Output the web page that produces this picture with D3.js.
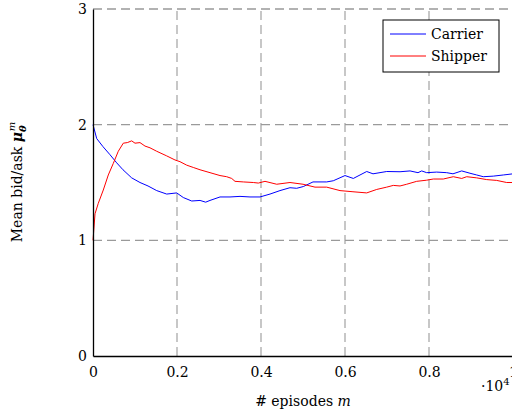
<!DOCTYPE html>
<html>
<head>
<meta charset="utf-8">
<script src="https://cdn.jsdelivr.net/npm/d3@7"></script>
<style>
  html, body { margin: 0; padding: 0; background: #fff; }
  svg { display: block; }
  text { font-family: "DejaVu Serif", serif; fill: #000; }
</style>
</head>
<body>
<svg id="chart" width="512" height="415"></svg>
<script>
// Mean bid/ask price over training episodes for both agents
const carrierEpisodes = [0, 88, 238, 405, 564, 714, 921, 1119, 1310, 1517, 1755, 1993, 2150, 2350, 2548, 2683, 2786, 3024, 3262, 3500, 3738, 3976, 4214, 4452, 4690, 4850, 5007, 5238, 5564, 5721, 6000, 6198, 6517, 6667, 6993, 7310, 7548, 7738, 7826, 7945, 8183, 8421, 8571, 8779, 8976, 9136, 9293, 9531, 9769, 10000];
const carrierValues = [2.00, 1.88, 1.81, 1.74, 1.67, 1.61, 1.54, 1.50, 1.47, 1.43, 1.40, 1.41, 1.37, 1.34, 1.345, 1.33, 1.345, 1.375, 1.375, 1.38, 1.375, 1.375, 1.40, 1.43, 1.455, 1.45, 1.465, 1.505, 1.505, 1.515, 1.56, 1.535, 1.595, 1.575, 1.595, 1.593, 1.60, 1.585, 1.60, 1.585, 1.59, 1.585, 1.575, 1.60, 1.58, 1.565, 1.55, 1.555, 1.565, 1.575];

const shipperEpisodes = [0, 48, 126, 245, 364, 483, 602, 721, 817, 921, 1000, 1119, 1238, 1357, 1517, 1755, 1952, 2071, 2231, 2388, 2548, 2786, 3024, 3183, 3302, 3381, 3579, 3817, 3936, 4095, 4374, 4690, 5000, 5286, 5564, 5881, 6190, 6517, 6755, 6993, 7150, 7310, 7469, 7707, 7945, 8102, 8340, 8579, 8779, 8898, 9136, 9374, 9612, 9850, 10000];
const shipperValues = [1.00, 1.23, 1.32, 1.435, 1.565, 1.665, 1.77, 1.84, 1.845, 1.86, 1.84, 1.845, 1.815, 1.80, 1.77, 1.73, 1.695, 1.68, 1.65, 1.63, 1.61, 1.585, 1.56, 1.55, 1.535, 1.51, 1.505, 1.50, 1.495, 1.51, 1.485, 1.50, 1.485, 1.46, 1.46, 1.43, 1.42, 1.41, 1.44, 1.46, 1.475, 1.47, 1.485, 1.51, 1.52, 1.53, 1.53, 1.55, 1.535, 1.55, 1.54, 1.525, 1.518, 1.50, 1.50];

const seriesNames = ["Carrier", "Shipper"];
const seriesColors = ["#0000ff", "#ff0000"];
const xTicks = [0, 2000, 4000, 6000, 8000, 10000];
const yTicks = [0, 1, 2, 3];

const svg = d3.select("#chart");
const x = d3.scaleLinear().domain([0, 10000]).range([93, 513]);
const y = d3.scaleLinear().domain([0, 3]).range([356, 9]);

// dashed major grid
const grid = svg.append("g").attr("stroke", "#9a9a9a").attr("stroke-width", 1.1)
  .attr("stroke-dasharray", "9,5").attr("fill", "none");
grid.selectAll("line.v").data(xTicks.filter(d => d > 0)).join("line")
  .attr("class", "v")
  .attr("x1", d => x(d)).attr("x2", d => x(d))
  .attr("y1", y(0)).attr("y2", y(3));
grid.selectAll("line.h").data(yTicks.filter(d => d > 0)).join("line")
  .attr("class", "h")
  .attr("x1", x(0)).attr("x2", x(10000))
  .attr("y1", d => y(d)).attr("y2", d => y(d))
  .attr("stroke", d => d === 3 ? "#666" : null);

// series lines
const line = d3.line().x(d => x(d[0])).y(d => y(d[1]));
const carrierData = carrierEpisodes.map((e, i) => [e, carrierValues[i]]);
const shipperData = shipperEpisodes.map((e, i) => [e, shipperValues[i]]);
[carrierData, shipperData].forEach((data, i) => {
  svg.append("path").datum(data)
    .attr("d", line)
    .attr("fill", "none")
    .attr("stroke", seriesColors[i])
    .attr("stroke-width", 1)
    .attr("stroke-linejoin", "round");
});

// axes
const xAxis = d3.axisBottom(x).tickValues(xTicks).tickSize(0).tickPadding(8)
  .tickFormat(d => d3.format("")(d / 10000));
const gx = svg.append("g").attr("transform", `translate(0,${y(0)})`).call(xAxis);
gx.select(".domain").attr("stroke", "#000").attr("stroke-width", 1.3);
gx.selectAll("text").attr("font-family", "DejaVu Serif").attr("font-size", 14).attr("dy", "0.95em");

const yAxis = d3.axisLeft(y).tickValues(yTicks).tickSize(0).tickPadding(6).tickFormat(d3.format("d"));
const gy = svg.append("g").attr("transform", `translate(${x(0)},0)`).call(yAxis);
gy.select(".domain").attr("stroke", "#000").attr("stroke-width", 1.3);
gy.selectAll("text").attr("font-family", "DejaVu Serif").attr("font-size", 14);

// axis titles
const xt = svg.append("text").attr("x", 303).attr("y", 406).attr("text-anchor", "middle")
  .attr("font-size", 14);
xt.append("tspan").text("# episodes ");
xt.append("tspan").attr("font-style", "italic").text("m");

const mult = svg.append("text").attr("x", 481).attr("y", 391).attr("font-size", 14);
mult.append("tspan").text("·10");
mult.append("tspan").attr("font-size", 10).attr("dy", -6).text("4");

const yt = svg.append("text")
  .attr("transform", "translate(22,182) rotate(-90)")
  .attr("text-anchor", "middle").attr("font-size", 14);
yt.append("tspan").text("Mean bid/ask ");
yt.append("tspan").attr("font-style", "italic").attr("font-weight", "bold").text("μ");
yt.append("tspan").attr("font-style", "italic").attr("font-weight", "bold").attr("font-size", 10).attr("dy", 4).text("θ");
yt.append("tspan").attr("font-style", "italic").attr("font-size", 10).attr("dx", -6).attr("dy", -11).text("m");

// legend
const lg = svg.append("g");
lg.append("rect").attr("x", 383).attr("y", 20).attr("width", 116).attr("height", 52)
  .attr("fill", "#fff").attr("stroke", "#000").attr("stroke-width", 1);
seriesNames.forEach((name, i) => {
  const yy = 34 + i * 22;
  lg.append("line").attr("x1", 390).attr("x2", 426).attr("y1", yy).attr("y2", yy)
    .attr("stroke", seriesColors[i]).attr("stroke-width", 1);
  lg.append("text").attr("x", 431).attr("y", yy + 5).attr("font-size", 14).text(name);
});
</script>
</body>
</html>
